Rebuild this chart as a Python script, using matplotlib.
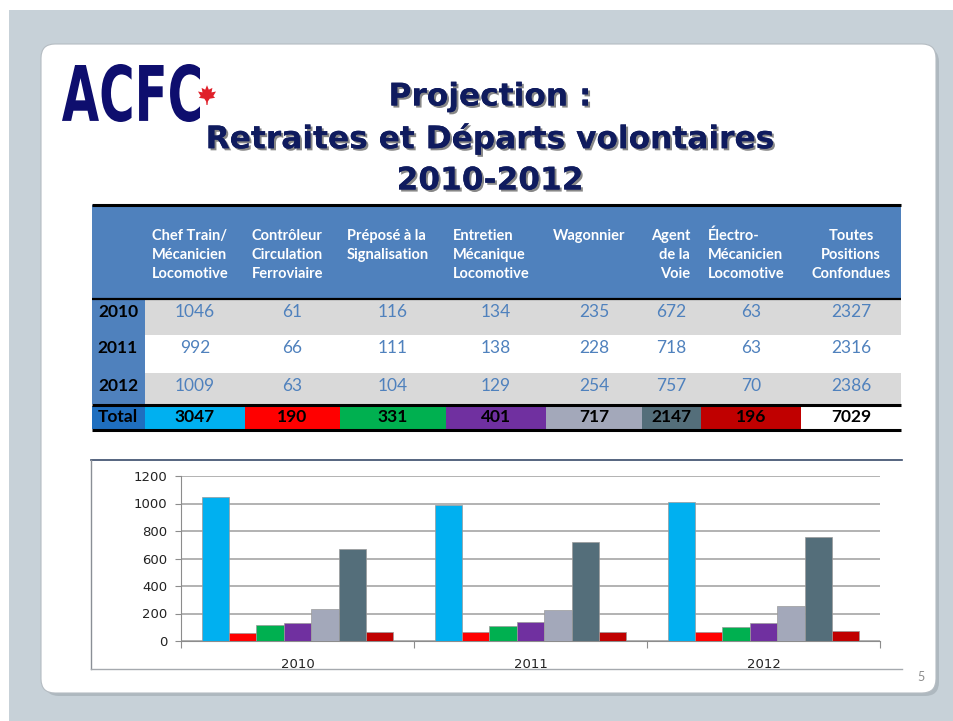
import numpy as np
import matplotlib.pyplot as plt
from matplotlib.patches import Rectangle, FancyBboxPatch, PathPatch, Polygon
from matplotlib.textpath import TextPath
from matplotlib.font_manager import FontProperties
from matplotlib.transforms import Affine2D
import matplotlib.patheffects as pe

# données du tableau
years = ["2010", "2011", "2012"]
postes = ["Chef Train/\nMécanicien\nLocomotive",
          "Contrôleur\nCirculation\nFerroviaire",
          "Préposé à la\nSignalisation",
          "Entretien\nMécanique\nLocomotive",
          "Wagonnier",
          "Agent\nde la\nVoie",
          "Électro-\nMécanicien\nLocomotive",
          "Toutes\nPositions\nConfondues"]
val_2010 = [1046, 61, 116, 134, 235, 672, 63, 2327]
val_2011 = [992, 66, 111, 138, 228, 718, 63, 2316]
val_2012 = [1009, 63, 104, 129, 254, 757, 70, 2386]
totaux = [3047, 190, 331, 401, 717, 2147, 196, 7029]
couleurs = ["#00B0F0", "#FF0000", "#00B050", "#7030A0",
            "#A3A8BA", "#546E7A", "#C00000", "#FFFFFF"]

# géométrie du tableau (pixels)
col_x = [92, 145, 245, 340, 446, 546, 642, 701, 801, 901]
row_y = [299, 335, 373, 404]
header_align = ["left", "left", "left", "left", "left", "right", "left", "center"]

W, H = 954, 721
fig = plt.figure(figsize=(W / 100, H / 100), dpi=100)
fig.patch.set_facecolor("white")
bg = fig.add_axes([0, 0, 1, 1])
bg.set_xlim(0, W)
bg.set_ylim(H, 0)
bg.axis("off")

# fond + carte de la diapo
bg.add_patch(Rectangle((9, 10), W - 9, H - 10, facecolor="#C7D1D8", edgecolor="none"))
bg.add_patch(FancyBboxPatch((45, 48), 894, 648, boxstyle="round,pad=0,rounding_size=14",
                            facecolor="#AEB8BF", edgecolor="none"))
bg.add_patch(FancyBboxPatch((41, 44), 895, 649, boxstyle="round,pad=0,rounding_size=14",
                            facecolor="white", edgecolor="#B5BCC2", lw=0.8))

# logo ACFC
tp = TextPath((0, 0), "ACFC", prop=FontProperties(family="DejaVu Sans", weight="bold"))
ext = tp.get_extents()
sx = (200 - 62) / ext.width
sy = (122 - 64) / ext.height
tr = Affine2D().translate(-ext.x0, -ext.y0).scale(sx, -sy).translate(62, 122)
bg.add_patch(PathPatch(tr.transform_path(tp), facecolor="#0E0E6E", edgecolor="none"))
leaf = np.array([[0, -12], [2, -7], [6, -9], [5, -4], [10, -5], [7, 0], [9, 2],
                 [3, 3], [1, 6], [0.6, 10], [-0.6, 10], [-1, 6], [-3, 3], [-9, 2],
                 [-7, 0], [-10, -5], [-5, -4], [-6, -9], [-2, -7]])
bg.add_patch(Polygon(leaf * 0.9 + [207, 96], closed=True, facecolor="#E0202A", edgecolor="none"))

# titre
shadow = [pe.withSimplePatchShadow(offset=(1.5, -1.5), shadow_rgbFace="#555555", alpha=0.7), pe.Normal()]
for txt, y in [("Projection :", 97), ("Retraites et Départs volontaires", 139), ("2010-2012", 181)]:
    bg.text(490, y, txt, ha="center", va="center", fontsize=22.5, fontweight="bold",
            color="#0F1B5E", family="DejaVu Sans", path_effects=shadow)

# tableau : entête
bg.add_patch(Rectangle((92, 205), 809, 94, facecolor="#4F81BD", edgecolor="none"))
for i, (lab, al) in enumerate(zip(postes, header_align)):
    x0, x1 = col_x[i + 1], col_x[i + 2]
    if al == "left":
        tx = x0 + 7
    elif al == "right":
        tx = x1 - 11
    else:
        tx = (x0 + x1) / 2
    bg.text(tx, 229, lab, ha=al, va="top", fontsize=10.5, fontweight="bold", color="white",
            family="Lato", linespacing=1.45, multialignment=al)

# lignes de données
rows = [val_2010, val_2011, val_2012]
row_bg = ["#D9D9D9", "white", "#D9D9D9"]
for r, (yr, vals) in enumerate(zip(years, rows)):
    y0, y1 = row_y[r], row_y[r + 1]
    bg.add_patch(Rectangle((92, y0), 53, y1 - y0, facecolor="#4F81BD", edgecolor="none"))
    bg.add_patch(Rectangle((145, y0), 756, y1 - y0, facecolor=row_bg[r], edgecolor="none"))
    yc = y0 + 13
    bg.text(118, yc, yr, ha="center", va="center", fontsize=12.5, fontweight="bold",
            color="black", family="Lato")
    for i, v in enumerate(vals):
        bg.text((col_x[i + 1] + col_x[i + 2]) / 2, yc, str(v), ha="center", va="center",
                fontsize=12.5, color="#4F81BD", family="Lato")

# ligne des totaux
bg.add_patch(Rectangle((92, 406), 53, 23, facecolor="#1F6FBF", edgecolor="none"))
bg.text(118, 417.5, "Total", ha="center", va="center", fontsize=12.5, fontweight="bold",
        color="black", family="Lato")
for i, (v, c) in enumerate(zip(totaux, couleurs)):
    x0, x1 = col_x[i + 1], col_x[i + 2]
    bg.add_patch(Rectangle((x0, 406), x1 - x0, 23, facecolor=c, edgecolor="none"))
    bg.text((x0 + x1) / 2, 417.5, str(v), ha="center", va="center", fontsize=12.5,
            fontweight="bold", color="black", family="Lato")
for y, lw in [(205, 2.2), (299, 1.6), (405, 2.2), (429.5, 2.2)]:
    bg.plot([92, 901], [y, y], color="black", lw=lw, solid_capstyle="butt")

# cadre du graphique
bg.plot([91, 902], [459.5, 459.5], color="#384A6A", lw=1.2)
bg.plot([91, 91], [459.5, 669], color="#8A8F96", lw=1)
bg.plot([91, 902], [669, 669], color="#A5A9AE", lw=1)

# page
bg.text(921, 677, "5", ha="center", va="center", fontsize=9, color="#8C8C8C", family="Lato")

# graphique en barres
ax = fig.add_axes([181 / W, (H - 641) / H, (880 - 181) / W, (641 - 476) / H])
ax.set_facecolor("none")
series = np.array(rows)[:, :7]
n = series.shape[1]
w = 1 / 8.5
xs = np.arange(len(years))
for j in range(n):
    ax.bar(xs + (j - (n - 1) / 2) * w, series[:, j], width=w, color=couleurs[j],
           edgecolor="#9A9A9A", linewidth=0.5, zorder=3)
ax.set_xlim(-0.5, len(years) - 0.5)
ax.set_ylim(0, 1200)
ax.set_yticks(range(0, 1201, 200))
ax.grid(axis="y", color="#A6A6A6", lw=1.2, zorder=0)
for s in ["top", "right"]:
    ax.spines[s].set_visible(False)
ax.spines["left"].set_color("#8C8C8C")
ax.spines["bottom"].set_color("#8C8C8C")
ax.tick_params(axis="y", length=4, color="#8C8C8C", labelsize=9.5, labelcolor="#222222", pad=6)
ax.set_xticks(np.arange(-0.5, len(years), 1))
ax.set_xticklabels([])
ax.set_xticks(xs, minor=True)
ax.set_xticklabels(years, minor=True)
ax.tick_params(axis="x", which="major", length=5, color="#8C8C8C", direction="out")
ax.tick_params(axis="x", which="minor", length=0, labelsize=9.5, labelcolor="#222222", pad=12)

fig.savefig("out.png", dpi=100)
